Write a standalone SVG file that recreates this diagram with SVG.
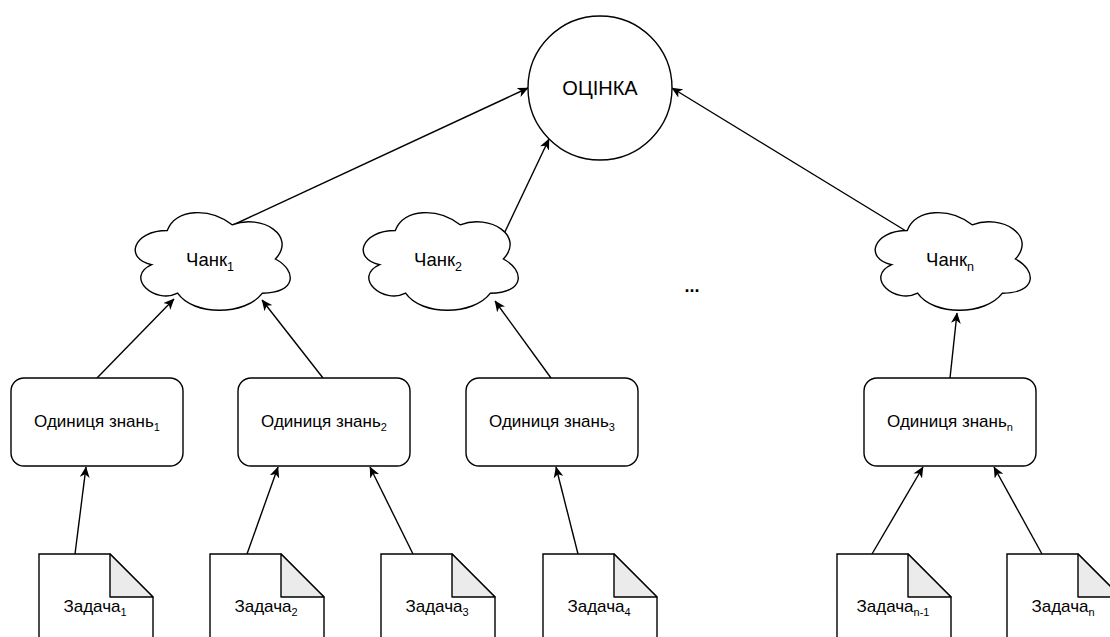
<svg xmlns="http://www.w3.org/2000/svg" width="1110" height="637" viewBox="0 0 1110 637">
<style>
.s{fill:#fff;stroke:#000;stroke-width:1.4}
.fold{fill:#ebebeb;stroke:#000;stroke-width:1.4;stroke-linejoin:round}
.t{font-family:"Liberation Sans",Arial,sans-serif;fill:#000;text-anchor:middle}
.e{fill:none;stroke:#000;stroke-width:1.4}
</style>
<defs>
<marker id="arr" viewBox="0 0 10 9" refX="9.5" refY="4.5" markerWidth="11" markerHeight="10" markerUnits="userSpaceOnUse" orient="auto">
<path d="M0,0 L10,4.5 L0,9 L2.8,4.5 Z" fill="#000"/>
</marker>
<path id="cloud" d="M43.25,28.5 C8.65,28.5 0,57 27.68,62.7 C0,75.24 31.14,102.6 53.63,91.2 C69.2,114 121.1,114 138.4,91.2 C173,91.2 173,68.4 151.38,57 C173,34.2 138.4,11.4 108.13,22.8 C86.5,5.7 51.9,5.7 43.25,28.5 Z"/>
<path id="doc" d="M0,0 H71 L114,43 V110 H0 Z"/>
<path id="foldp" d="M71,0 V43 H114 Z"/>
</defs>
<g id="connectors">
<line class="e" x1="233" y1="225" x2="528" y2="88" marker-end="url(#arr)"/>
<line class="e" x1="503" y1="236" x2="549" y2="139" marker-end="url(#arr)"/>
<line class="e" x1="906" y1="231" x2="672" y2="88" marker-end="url(#arr)"/>
<line class="e" x1="97" y1="378" x2="174" y2="299" marker-end="url(#arr)"/>
<line class="e" x1="323" y1="378" x2="262" y2="300" marker-end="url(#arr)"/>
<line class="e" x1="551" y1="378" x2="495" y2="301" marker-end="url(#arr)"/>
<line class="e" x1="950" y1="378" x2="957" y2="313" marker-end="url(#arr)"/>
<line class="e" x1="75" y1="554" x2="86" y2="467" marker-end="url(#arr)"/>
<line class="e" x1="247" y1="554" x2="278" y2="467" marker-end="url(#arr)"/>
<line class="e" x1="413" y1="554" x2="370" y2="467" marker-end="url(#arr)"/>
<line class="e" x1="578" y1="554" x2="556" y2="467" marker-end="url(#arr)"/>
<line class="e" x1="872" y1="554" x2="923" y2="467" marker-end="url(#arr)"/>
<line class="e" x1="1042" y1="554" x2="994" y2="467" marker-end="url(#arr)"/>
</g>
<g id="ocinka">
<circle class="s" cx="600" cy="88" r="72"/>
<text class="t" x="600" y="95" font-size="20">ОЦІНКА</text>
</g>
<g id="chunk1">
<use href="#cloud" class="s" transform="translate(124,202)"/>
<text class="t" x="210" y="266" font-size="18.5">Чанк<tspan font-size="12.5" dy="5">1</tspan></text>
</g>
<g id="chunk2">
<use href="#cloud" class="s" transform="translate(352,202)"/>
<text class="t" x="438" y="266" font-size="18.5">Чанк<tspan font-size="12.5" dy="5">2</tspan></text>
</g>
<g id="chunkn">
<use href="#cloud" class="s" transform="translate(864,202)"/>
<text class="t" x="950" y="266" font-size="18.5">Чанк<tspan font-size="12.5" dy="5">n</tspan></text>
</g>
<g id="dots">
<text class="t" x="692" y="292" font-size="18" font-weight="bold">...</text>
</g>
<g id="unit1">
<rect class="s" x="11" y="378" width="172" height="88" rx="13"/>
<text class="t" x="97" y="427" font-size="17">Одиниця знань<tspan font-size="11" dy="4">1</tspan></text>
</g>
<g id="unit2">
<rect class="s" x="238" y="378" width="172" height="88" rx="13"/>
<text class="t" x="324" y="427" font-size="17">Одиниця знань<tspan font-size="11" dy="4">2</tspan></text>
</g>
<g id="unit3">
<rect class="s" x="466" y="378" width="172" height="88" rx="13"/>
<text class="t" x="552" y="427" font-size="17">Одиниця знань<tspan font-size="11" dy="4">3</tspan></text>
</g>
<g id="unitn">
<rect class="s" x="864" y="378" width="172" height="88" rx="13"/>
<text class="t" x="950" y="427" font-size="17">Одиниця знань<tspan font-size="11" dy="4">n</tspan></text>
</g>
<g id="task1">
<use href="#doc" class="s" transform="translate(39,554)"/>
<use href="#foldp" class="fold" transform="translate(39,554)"/>
<text class="t" x="95" y="612" font-size="17">Задача<tspan font-size="11" dy="4">1</tspan></text>
</g>
<g id="task2">
<use href="#doc" class="s" transform="translate(210,554)"/>
<use href="#foldp" class="fold" transform="translate(210,554)"/>
<text class="t" x="266" y="612" font-size="17">Задача<tspan font-size="11" dy="4">2</tspan></text>
</g>
<g id="task3">
<use href="#doc" class="s" transform="translate(381,554)"/>
<use href="#foldp" class="fold" transform="translate(381,554)"/>
<text class="t" x="437" y="612" font-size="17">Задача<tspan font-size="11" dy="4">3</tspan></text>
</g>
<g id="task4">
<use href="#doc" class="s" transform="translate(543,554)"/>
<use href="#foldp" class="fold" transform="translate(543,554)"/>
<text class="t" x="599" y="612" font-size="17">Задача<tspan font-size="11" dy="4">4</tspan></text>
</g>
<g id="taskn1">
<use href="#doc" class="s" transform="translate(837,554)"/>
<use href="#foldp" class="fold" transform="translate(837,554)"/>
<text class="t" x="893" y="612" font-size="17">Задача<tspan font-size="11" dy="4">n-1</tspan></text>
</g>
<g id="taskn">
<use href="#doc" class="s" transform="translate(1007,554)"/>
<use href="#foldp" class="fold" transform="translate(1007,554)"/>
<text class="t" x="1063" y="612" font-size="17">Задача<tspan font-size="11" dy="4">n</tspan></text>
</g>
</svg>
